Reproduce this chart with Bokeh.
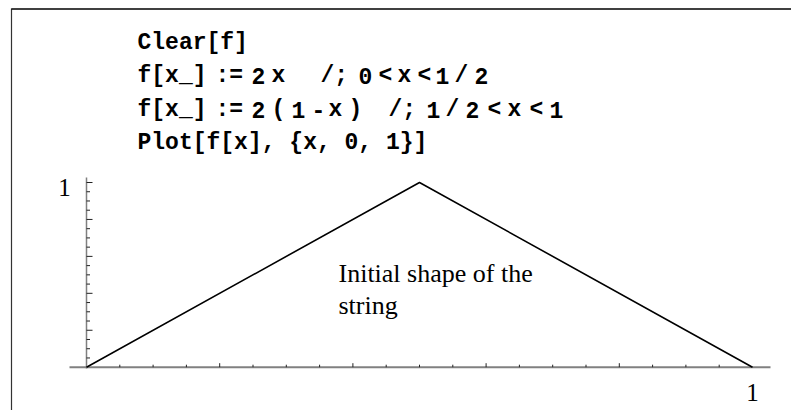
from bokeh.plotting import figure
from bokeh.models import Range1d
from bokeh.core.properties import value
from bokeh.embed import file_html
from bokeh.resources import INLINE

# ---- data ----
string_x = [0.0, 0.5, 1.0]
string_y = [0.0, 1.0, 0.0]
x_minor_ticks = [0.05, 0.10, 0.15, 0.25, 0.30, 0.35, 0.45, 0.50, 0.55,
                 0.65, 0.70, 0.75, 0.85, 0.90, 0.95]
x_major_ticks = [0.2, 0.4, 0.6, 0.8]
y_minor_ticks = [0.05, 0.10, 0.15, 0.25, 0.30, 0.35, 0.45, 0.50, 0.55,
                 0.65, 0.70, 0.75, 0.85, 0.90, 0.95]
y_major_ticks = [0.2, 0.4, 0.6, 0.8, 1.0]
x_tick_labels = ["1"]
y_tick_labels = ["1"]
x_label_pos = [1.0]
y_label_pos = [1.0]
annotation_lines = ["Initial shape of the", "string"]
code_lines = [
    [("Clear[f]", 137)],
    [("f[x_]", 137), (":=", 215), ("2", 251), ("x", 271), ("/;", 320),
     ("0", 358), ("<", 378), ("x", 397), ("<", 417), ("1", 435), ("/", 454), ("2", 474)],
    [("f[x_]", 137), (":=", 215), ("2", 251), ("(", 271), ("1", 291), ("-", 311),
     ("x", 328), (")", 348), ("/;", 388), ("1", 426), ("/", 445), ("2", 465),
     ("<", 487), ("x", 507), ("<", 529), ("1", 549)],
    [("Plot[f[x], {x, 0, 1}]", 137)],
]
code_baselines = [42, 75, 109, 142]

# ---- layout: image pixel <-> data ----
W, H = 791, 410
X0P, SX = 86.0, 666.0     # image x of x=0, px per unit
Y0P, SY = 366.7, 184.7    # image y of y=0, px per unit


def dx(px):
    return (px - X0P) / SX


def dy(py):
    return (Y0P - py) / SY


p = figure(width=W, height=H, output_backend="svg", toolbar_location=None,
           x_range=Range1d(dx(0), dx(W)), y_range=Range1d(dy(H), dy(0)),
           x_axis_location=None, y_axis_location=None, min_border=0,
           outline_line_color=None, background_fill_color="white",
           border_fill_color="white")
p.grid.visible = False

# frame lines of the notebook cell
p.line([dx(11), dx(11)], [dy(8), dy(H)], line_color="#333333", line_width=1.2)
p.line([dx(11), dx(W)], [dy(8.5), dy(8.5)], line_color="black", line_width=1.6)

# code text
for line, base in zip(code_lines, code_baselines):
    for tok, px in line:
        p.text(x=[dx(px)], y=[dy(base)], text=[tok], text_font=value("Liberation Mono"),
               text_font_style="bold", text_font_size="23px", text_color="black",
               text_align="left", text_baseline="alphabetic")

# axes
p.line([dx(69), dx(770)], [0, 0], line_color="#808080", line_width=2)
p.line([0, 0], [dy(368), dy(177)], line_color="#808080", line_width=1.5)

# ticks
tk = 2.5 / SY
tkM = 4.0 / SY
p.segment(x0=x_minor_ticks, y0=[0] * len(x_minor_ticks), x1=x_minor_ticks,
          y1=[tk] * len(x_minor_ticks), line_color="#222222", line_width=1)
p.segment(x0=x_major_ticks, y0=[0] * len(x_major_ticks), x1=x_major_ticks,
          y1=[tkM] * len(x_major_ticks), line_color="#222222", line_width=1)
tx = 3.5 / SX
txM = 6.0 / SX
p.segment(x0=[0] * len(y_minor_ticks), y0=y_minor_ticks, x1=[tx] * len(y_minor_ticks),
          y1=y_minor_ticks, line_color="#222222", line_width=1)
p.segment(x0=[0] * len(y_major_ticks), y0=y_major_ticks, x1=[txM] * len(y_major_ticks),
          y1=y_major_ticks, line_color="#222222", line_width=1)

# tick labels
p.text(x=x_label_pos, y=[dy(392)], text=x_tick_labels, text_font=value("Liberation Serif"),
       text_font_size="25px", text_align="center", text_baseline="alphabetic",
       text_color="black")
p.text(x=[dx(64)], y=[dy(187)], text=y_tick_labels, text_font=value("Liberation Serif"),
       text_font_size="25px", text_align="center", text_baseline="alphabetic",
       text_color="black")

# the string
p.line(string_x, string_y, line_color="black", line_width=1.6)

# annotation
for t, base in zip(annotation_lines, [273, 305]):
    p.text(x=[dx(338)], y=[dy(base)], text=[t], text_font=value("Liberation Serif"),
           text_font_size="26px", text_align="left", text_baseline="alphabetic",
           text_color="black")

open("out.html", "w").write(file_html(p, INLINE))
